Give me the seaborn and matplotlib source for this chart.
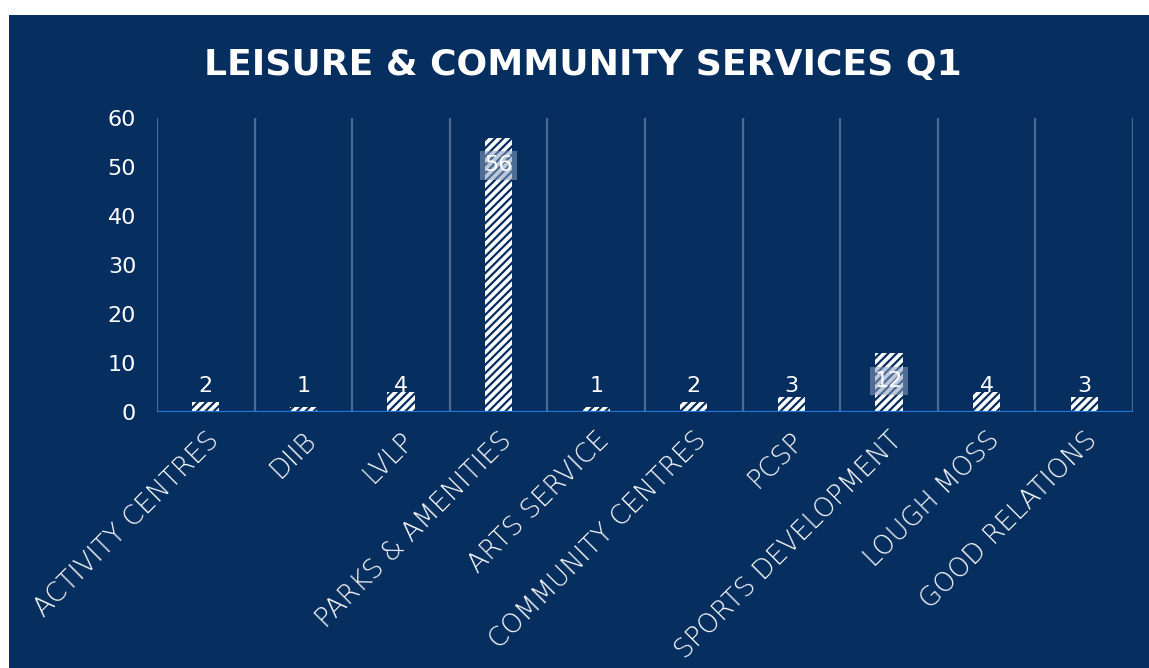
import matplotlib
matplotlib.use("Agg")
import matplotlib.pyplot as plt
import seaborn as sns
from matplotlib.patches import Rectangle

categories = ["ACTIVITY CENTRES", "DIIB", "LVLP", "PARKS & AMENITIES", "ARTS SERVICE",
              "COMMUNITY CENTRES", "PCSP", "SPORTS DEVELOPMENT", "LOUGH MOSS", "GOOD RELATIONS"]
values = [2, 1, 4, 56, 1, 2, 3, 12, 4, 3]
yticks = [0, 10, 20, 30, 40, 50, 60]
title = "LEISURE & COMMUNITY SERVICES Q1"

NAVY = "#062e5f"
GRID = "#4d6a93"
AXIS = "#1f78e0"

sns.set_theme(style="white")
plt.rcParams["font.family"] = ["DejaVu Sans"]
plt.rcParams["hatch.linewidth"] = 1.6

W, H = 1149, 668
fig = plt.figure(figsize=(W / 100, H / 100), dpi=100, facecolor="white")
fig.add_artist(Rectangle((9 / W, 0), 1 - 9 / W, 1 - 15 / H, transform=fig.transFigure,
                         facecolor=NAVY, edgecolor="none", zorder=0))

ax = fig.add_axes([157 / W, (H - 412) / H, (1133 - 157) / W, (412 - 118) / H])
ax.set_facecolor(NAVY)
ax.patch.set_alpha(0)

sns.barplot(x=categories, y=values, color="white", width=0.28, ax=ax,
            saturation=1, edgecolor=NAVY, linewidth=0)
for p in ax.patches:
    p.set_hatch("////")
    p.set_edgecolor(NAVY)
    p.set_linewidth(0)

ax.set_ylim(0, 60)
ax.set_xlim(-0.5, len(categories) - 0.5)
ax.set_yticks(yticks)
ax.set_yticklabels([str(t) for t in yticks], color="white", fontsize=16)

for b in range(len(categories) + 1):
    ax.axvline(b - 0.5, color=GRID, lw=1.6, zorder=0)
ax.axhline(0, color=AXIS, lw=1.6, zorder=3)

for s in ax.spines.values():
    s.set_visible(False)
ax.tick_params(axis="both", length=0)
ax.tick_params(axis="x", pad=11)
ax.tick_params(axis="y", pad=15)

ax.set_xticks(range(len(categories)))
ax.set_xticklabels(categories, rotation=45, ha="right", rotation_mode="anchor",
                   color="white", fontsize=19, fontweight="light")
ax.set_xlabel("")
ax.set_ylabel("")

for i, v in enumerate(values):
    if v >= 10:
        ax.annotate(str(v), xy=(i, v), xytext=(0, -20), textcoords="offset points",
                    ha="center", va="center", color="white", fontsize=16,
                    bbox=dict(boxstyle="square,pad=0.2", facecolor="#8aa0c0",
                              edgecolor="none", alpha=0.55))
    else:
        ax.annotate(str(v), xy=(i, 0), xytext=(0, 19), textcoords="offset points",
                    ha="center", va="center", color="white", fontsize=16)

fig.text(583 / W, (H - 65) / H, title, ha="center", va="center", color="white",
         fontsize=26, fontweight="bold")

fig.savefig("out.png", dpi=100, facecolor="white")
